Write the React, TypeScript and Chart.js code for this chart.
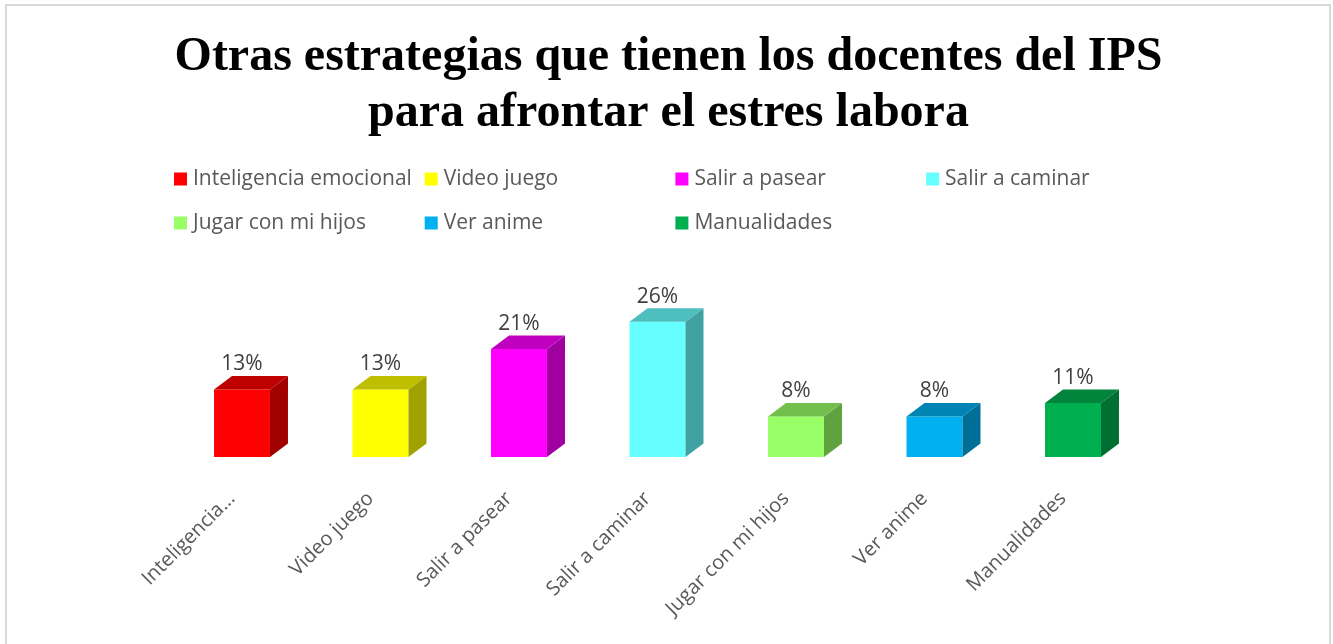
import React, { useEffect, useRef } from "react";
import { Chart, registerables } from "chart.js";

Chart.register(...registerables);

// ---- data ----
const titleLines = [
  "Otras estrategias que tienen los docentes del IPS",
  "para afrontar el estres labora",
];
const categories = [
  "Inteligencia emocional",
  "Video juego",
  "Salir a pasear",
  "Salir a caminar",
  "Jugar con mi hijos",
  "Ver anime",
  "Manualidades",
];
const tickLabels = [
  "Inteligencia...",
  "Video juego",
  "Salir a pasear",
  "Salir a caminar",
  "Jugar con mi hijos",
  "Ver anime",
  "Manualidades",
];
const percentValues = [13.16, 13.16, 21.05, 26.32, 7.89, 7.89, 10.53];
const valueLabels = ["13%", "13%", "21%", "26%", "8%", "8%", "11%"];
const barColors = [
  "#FF0000",
  "#FFFF00",
  "#FF00FF",
  "#66FFFF",
  "#99FF66",
  "#00B0F0",
  "#00B050",
];

const shade = (hex: string, f: number) => {
  const n = parseInt(hex.slice(1), 16);
  const r = Math.round(((n >> 16) & 255) * f);
  const g = Math.round(((n >> 8) & 255) * f);
  const b = Math.round((n & 255) * f);
  return `rgb(${r},${g},${b})`;
};

const DEPTH_X = 18;
const DEPTH_Y = 13.5;

const bar3dPlugin = {
  id: "bar3d",
  afterDatasetsDraw(chart: any) {
    const ctx = chart.ctx;
    const meta = chart.getDatasetMeta(0);
    meta.data.forEach((el: any, i: number) => {
      const { x, y, base, width } = el.getProps(["x", "y", "base", "width"], true);
      const left = x - width / 2;
      const right = x + width / 2;
      const c = barColors[i];
      ctx.save();
      // side face
      ctx.beginPath();
      ctx.moveTo(right, y);
      ctx.lineTo(right + DEPTH_X, y - DEPTH_Y);
      ctx.lineTo(right + DEPTH_X, base - DEPTH_Y);
      ctx.lineTo(right, base);
      ctx.closePath();
      ctx.fillStyle = shade(c, 0.63);
      ctx.fill();
      // top face
      ctx.beginPath();
      ctx.moveTo(left, y);
      ctx.lineTo(left + DEPTH_X, y - DEPTH_Y);
      ctx.lineTo(right + DEPTH_X, y - DEPTH_Y);
      ctx.lineTo(right, y);
      ctx.closePath();
      ctx.fillStyle = shade(c, 0.75);
      ctx.fill();
      // value label
      ctx.fillStyle = "#404040";
      ctx.font = "21px 'Open Sans'";
      ctx.textAlign = "center";
      ctx.textBaseline = "middle";
      ctx.fillText(valueLabels[i], x, y - 25);
      ctx.restore();
    });
  },
};

const gridLegendPlugin = {
  id: "gridLegend",
  afterDraw(chart: any) {
    const ctx = chart.ctx;
    const startX = 174;
    const colW = 250.7;
    const rowYs = [179, 223];
    const perRow = 4;
    ctx.save();
    ctx.font = "21px 'Open Sans'";
    ctx.textBaseline = "middle";
    ctx.textAlign = "left";
    categories.forEach((name, i) => {
      const row = Math.floor(i / perRow);
      const col = i % perRow;
      const bx = startX + col * colW;
      const by = rowYs[row];
      ctx.fillStyle = barColors[i];
      ctx.fillRect(bx, by - 6.5, 13, 13);
      ctx.fillStyle = "#595959";
      ctx.fillText(name, bx + 19, by);
    });
    ctx.restore();
  },
};

export default function App() {
  const canvasRef = useRef<HTMLCanvasElement | null>(null);

  useEffect(() => {
    const canvas = canvasRef.current;
    if (!canvas) return;
    const chart = new Chart(canvas, {
      type: "bar",
      data: {
        labels: tickLabels,
        datasets: [
          {
            data: percentValues,
            backgroundColor: barColors,
            borderWidth: 0,
            categoryPercentage: 1,
            barPercentage: 0.404,
          },
        ],
      },
      options: {
        animation: false,
        responsive: false,
        maintainAspectRatio: false,
        layout: {
          padding: { left: 4, right: 0, top: 0, bottom: 0 },
        },
        plugins: {
          legend: { display: false },
          tooltip: { enabled: false },
          title: {
            display: true,
            text: titleLines,
            color: "#000000",
            font: { family: "'Liberation Serif'", size: 48, weight: "bold", lineHeight: 1.16 },
            padding: { top: 30, bottom: 161.6 },
          },
        },
        scales: {
          x: {
            grid: { display: false, drawTicks: false },
            border: { display: false },
            ticks: {
              color: "#595959",
              font: { family: "'Open Sans'", size: 20 },
              minRotation: 45,
              maxRotation: 45,
              padding: 30,
              labelOffset: -10,
              autoSkip: false,
            },
            afterFit(scale: any) {
              scale.height = 187;
            },
          },
          y: {
            display: true,
            position: "left",
            min: 0,
            max: 30,
            grid: { display: false, drawTicks: false },
            border: { display: false },
            ticks: { display: false },
            afterFit(scale: any) {
              scale.width = 168.75;
            },
          },
          yRight: {
            type: "linear",
            display: true,
            position: "right",
            min: 0,
            max: 30,
            grid: { display: false, drawTicks: false },
            border: { display: false },
            ticks: { display: false },
            afterFit(scale: any) {
              scale.width = 190.75;
            },
          },
        },
      },
      plugins: [bar3dPlugin, gridLegendPlugin],
    });
    return () => chart.destroy();
  }, []);

  return (
    <div style={{ position: "fixed", left: 0, top: 0, width: 1333, height: 644, background: "#ffffff", overflow: "hidden" }}>
      <canvas ref={canvasRef} width={1333} height={644} style={{ display: "block", width: 1333, height: 644 }} />
      <div
        style={{
          position: "absolute",
          left: 5,
          top: 4,
          width: 1322,
          height: 700,
          border: "2px solid #d9d9d9",
          pointerEvents: "none",
        }}
      />
    </div>
  );
}
